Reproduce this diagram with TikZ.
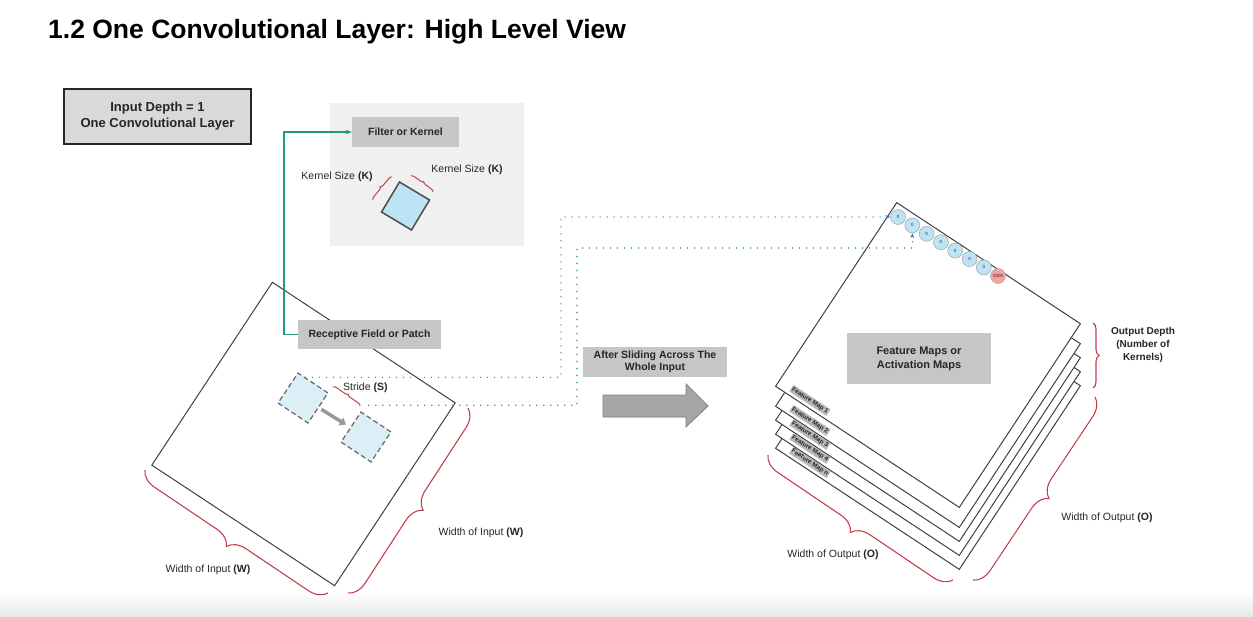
\documentclass[tikz,border=0pt]{standalone}
\usepackage{fontspec}
\setmainfont{Liberation Sans}
\usetikzlibrary{arrows.meta,calc,decorations.pathreplacing}
\definecolor{boxgray}{HTML}{C6C6C6}
\definecolor{panelgray}{HTML}{F0F0F0}
\definecolor{cellblue}{HTML}{BEE3F5}
\definecolor{patchblue}{HTML}{DCEEF6}
\definecolor{cellred}{HTML}{F2A3A0}
\definecolor{bracered}{HTML}{C4404F}
\definecolor{linkgreen}{HTML}{1F9A83}
\definecolor{dotblue}{HTML}{3D97AE}
\definecolor{tipblue}{HTML}{2C78B8}

\begin{document}
\begin{tikzpicture}[x=1pt,y=-1pt,
    every node/.style={font=\fontsize{10.5}{12}\selectfont, text=black!85},
    labelbox/.style={fill=boxgray, align=center, inner sep=0pt,
      font=\bfseries\fontsize{10.5}{12.5}\selectfont},
    plane/.style={draw=black!75, line width=1pt, fill=white, rotate=-33.4,
      minimum size=219pt, inner sep=0pt},
    patch/.style={draw=black!60, dash pattern=on 5pt off 3pt, line width=1.2pt,
      fill=patchblue, rotate=-33.5, minimum size=36pt, inner sep=0pt},
    cell/.style={circle, draw=black!40, fill=cellblue, minimum size=15pt,
      inner sep=0pt, font=\fontsize{4.5}{5}\selectfont},
    fmtag/.style={fill=black!28, rotate=-33.4, inner sep=1pt,
      font=\bfseries\fontsize{6.3}{6.3}\selectfont},
    wbrace/.style={decorate, decoration={brace, amplitude=18pt},
      draw=bracered, line width=1.1pt},
    kbrace/.style={decorate, decoration={brace, amplitude=3pt},
      draw=bracered, line width=1pt},
    dotline/.style={dotblue, line width=1.6pt, line cap=round,
      dash pattern=on 0pt off 7pt}]

  \useasboundingbox (0,0) rectangle (1253,616);
  \fill[white] (0,0) rectangle (1253,616);
  \shade[top color=white, bottom color=black!9] (0,592) rectangle (1253,616);

  % title and info box
  \node[anchor=west, inner sep=0pt, font=\bfseries\fontsize{26.5}{30}\selectfont, text=black]
    (title) at (48,32) {1.2 One Convolutional Layer: High Level View};
  \node[draw=black!85, line width=2pt, fill=black!15, align=center,
    minimum width=187pt, minimum height=55pt, font=\bfseries\fontsize{13}{16}\selectfont]
    (depthbox) at (157.5,116.5) {Input Depth = 1\\One Convolutional Layer};

  % filter panel
  \fill[panelgray] (330,103) rectangle (524,246);
  \node[labelbox, minimum width=107pt, minimum height=30pt] (filter) at (405.5,132) {Filter or Kernel};
  \node[draw=black!70, line width=1.5pt, fill=cellblue, rotate=-31, minimum size=35pt,
    inner sep=0pt] (kern) at (405.5,206) {};
  \draw[kbrace] (373,200) -- (392,177);
  \draw[kbrace] (411,176) -- (433,192);
  \node (ksl) at (337,177) {Kernel Size \textbf{(K)}};
  \node (ksr) at (467,170) {Kernel Size \textbf{(K)}};

  % input
  \node[plane] (inp) at (303.5,434) {};
  \node[patch] (p1) at (303,398) {};
  \node[patch] (p2) at (366,437) {};
  \draw[line width=3.5pt, black!40, -{Triangle[length=6pt,width=9pt]},
    shorten <=3pt, shorten >=5pt] (p1) -- (p2);
  \draw[kbrace] (333,387) -- (360,406);
  \node[anchor=west, inner sep=0pt] (stride) at (343,388) {Stride \textbf{(S)}};
  \node[labelbox, minimum width=143pt, minimum height=29pt] (rf) at (369.5,334.5)
    {Receptive Field or Patch};
  \draw[linkgreen, line width=1.6pt, -{Stealth[length=6pt]}]
    (rf.west) -- ++(-14,0) |- (filter.west);

  \draw[wbrace] (328,593) -- (145,470);
  \draw[wbrace] (468,408) -- (348,593);
  \node (winl) at (208,570) {Width of Input \textbf{(W)}};
  \node (winr) at (481,533) {Width of Input \textbf{(W)}};

  % sliding
  \node[labelbox, minimum width=144pt, minimum height=30pt] (slide) at (655,362)
    {After Sliding Across The\\Whole Input};
  \filldraw[fill=black!35, draw=black!50, line width=0.8pt]
    (603,395) -- (686,395) -- (686,384) -- (708,406) -- (686,427) -- (686,417) -- (603,417) -- cycle;

  % output stack
  \foreach \k/\dy in {5/62, 4/48, 3/34, 2/20, 1/0}
    \node[plane, minimum size=220pt] (fm\k) at (928,{355+\dy}) {};
  \foreach \k/\lbl in {1/1, 2/2, 3/3, 4/4, 5/n}
    \node[fmtag] (tag\k) at ($(fm\k.south west)+(35,14)$) {Feature Map \lbl};
  \node[labelbox, minimum width=144pt, minimum height=51pt,
    font=\bfseries\fontsize{11}{14}\selectfont] (fmaps) at (919,358.5)
    {Feature Maps or\\Activation Maps};

  \foreach \i in {1,...,7}
    \node[cell] (c\i) at ({898+14.3*(\i-1)},{217+8.4*(\i-1)}) {0};
  \node[cell, fill=cellred, draw=black!35] (c8) at (998,276) {0000};

  % dotted links
  \draw[dotline, -{Stealth[length=5pt,color=tipblue]}]
    ($(p1.north)!.5!(p1.north west)$) -| (561,217) -- (c1.west);
  \draw[dotline, -{Stealth[length=5pt,color=tipblue]}]
    ([xshift=8pt,yshift=6pt]p2.north west) -| (577,248) -| (c2.south);

  \draw[decorate, decoration={brace, amplitude=6pt}, draw=bracered, line width=1.1pt]
    (1093,323) -- (1093,388);
  \node[align=center, font=\bfseries\fontsize{10}{13}\selectfont] (depth) at (1143,345)
    {Output Depth\\(Number of\\Kernels)};

  \draw[wbrace] (953,580) -- (768,455);
  \draw[wbrace] (1095,397) -- (973,580);
  \node (woutl) at (833,555) {Width of Output \textbf{(O)}};
  \node (woutr) at (1107,518) {Width of Output \textbf{(O)}};
\end{tikzpicture}
\end{document}
